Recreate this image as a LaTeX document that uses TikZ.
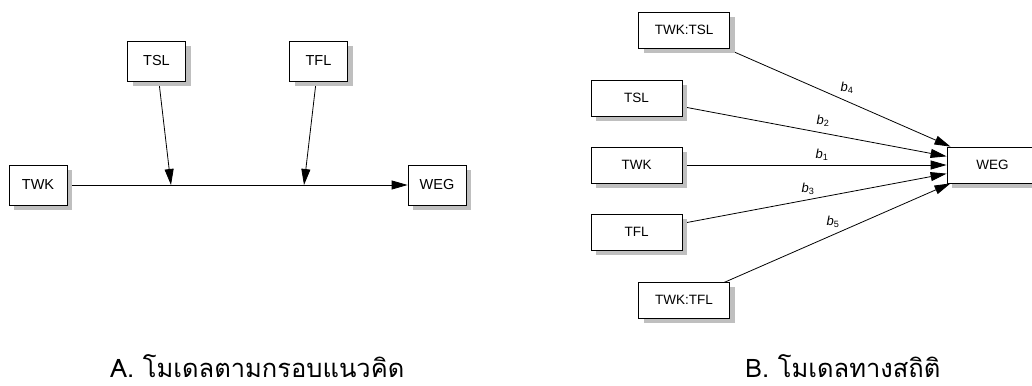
\documentclass[tikz,border=0pt]{standalone}
\usepackage{fontspec}
\setmainfont{Liberation Sans}
\newfontfamily\thaifont[Script=Thai]{Loma}
\usetikzlibrary{arrows.meta,shadows,backgrounds}
\tikzset{
  box/.style={draw=black, line width=0.8pt, fill=white, minimum height=40pt,
    minimum width=58pt, inner sep=0pt, font=\fontsize{14.5}{16}\selectfont,
    drop shadow={shadow xshift=5pt, shadow yshift=-5pt, fill=black!25, opacity=1}},
  rbox/.style={box, minimum height=36pt, minimum width=91pt, font=\fontsize{13.5}{15}\selectfont},
  arr/.style={line width=0.8pt, -{Triangle[length=16pt,width=9pt]}},
  lbl/.style={font=\fontsize{13}{14}\selectfont, inner sep=0pt},
  captxt/.style={font=\thaifont\fontsize{25.5}{28}\selectfont, inner sep=0pt, anchor=base west}
}
\begin{document}
\begin{tikzpicture}[x=1pt,y=-1pt]
\useasboundingbox (0,0) rectangle (1032,385);
\clip (0,0) rectangle (1032,385);
% ---- A: conceptual model
\node[box] (twk) at (38,185) {TWK};
\node[box] (tsl) at (156.5,61) {TSL};
\node[box] (tfl) at (318.5,61) {TFL};
\node[box] (weg) at (437,185) {WEG};
\coordinate (m1) at (171,185);
\coordinate (m2) at (304,185);
\begin{scope}[on background layer]
\draw[arr] (twk.center) -- (weg);
\draw[arr] (tsl.center) -- (m1);
\draw[arr] (tfl.center) -- (m2);
\end{scope}
% ---- B: statistical model
\node[rbox] (rts) at (684,30) {TWK:TSL};
\node[rbox] (rtsl) at (636.5,98) {TSL};
\node[rbox] (rtwk) at (636.5,165) {TWK};
\node[rbox] (rtfl) at (636.5,232) {TFL};
\node[rbox] (rtf) at (684,300) {TWK:TFL};
\node[rbox] (rweg) at (992.5,165) {WEG};
\begin{scope}[on background layer]
\draw[arr] (rts.center) -- (rweg);
\draw[arr] (rtsl.center) -- (rweg);
\draw[arr] (rtwk.center) -- (rweg);
\draw[arr] (rtfl.center) -- (rweg);
\draw[arr] (rtf.center) -- (rweg);
\end{scope}
\node[lbl] (b4) at (847,88) {\textit{b}\textsubscript{4}};
\node[lbl] (b2) at (823,121) {\textit{b}\textsubscript{2}};
\node[lbl] (b1) at (822,155) {\textit{b}\textsubscript{1}};
\node[lbl] (b3) at (808,189) {\textit{b}\textsubscript{3}};
\node[lbl] (b5) at (833,222) {\textit{b}\textsubscript{5}};
% ---- captions
\node[captxt] (capa) at (110,377) {A. โมเดลตามกรอบแนวคิด};
\node[captxt] (capb) at (745,377) {B. โมเดลทางสถิติ};
\end{tikzpicture}
\end{document}
